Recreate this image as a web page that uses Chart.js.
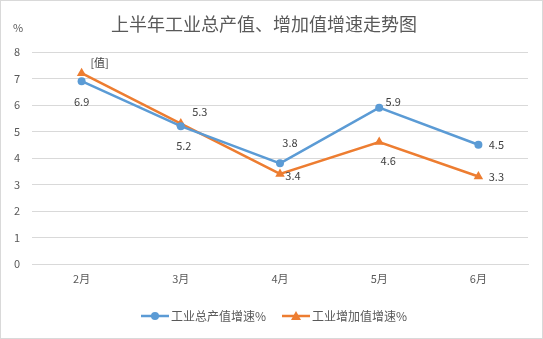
<!DOCTYPE html>
<html>
<head>
<meta charset="utf-8">
<script src="https://cdn.jsdelivr.net/npm/chart.js@4.4.0/dist/chart.umd.min.js"></script>
<style>
  html, body { margin: 0; padding: 0; background: #fff; }
  #wrap { width: 543px; height: 339px; }
</style>
</head>
<body>
<div id="wrap"><canvas id="myChart" width="543" height="339"></canvas></div>
<script>
// 月份与两条增速数据
const months = ["2月", "3月", "4月", "5月", "6月"];
const grossOutput = [6.9, 5.2, 3.8, 5.9, 4.5];
const addedValue = [7.2, 5.3, 3.4, 4.6, 3.3];
const seriesNames = ["工业总产值增速%", "工业增加值增速%"];
// 数据标签文字（增加值第一个点显示为占位符）
const grossLabels = ["6.9", "5.2", "3.8", "5.9", "4.5"];
const addedLabels = ["[值]", "5.3", "3.4", "4.6", "3.3"];

const FONT = "'Noto Sans CJK SC', 'Noto Sans', sans-serif";
const BLUE = "#5b9bd5";
const ORANGE = "#ed7d31";
const TEXT = "#595959";

// 每个标签相对数据点的偏移
const labelOffsets = [
  [[0, 21], [3, 20], [10, -20], [14, -6], [18, 0]],
  [[18, -10], [19, -12], [13, 2], [9, 19], [18, 0]]
];

const labelPlugin = {
  id: "valueLabels",
  afterDatasetsDraw(chart) {
    const c = chart.ctx;
    c.save();
    c.font = "11px " + FONT;
    c.fillStyle = "#404040";
    c.textAlign = "center";
    c.textBaseline = "middle";
    [grossLabels, addedLabels].forEach((labels, di) => {
      chart.getDatasetMeta(di).data.forEach((pt, i) => {
        const off = labelOffsets[di][i];
        c.fillText(labels[i], pt.x + off[0], pt.y + off[1]);
      });
    });
    c.restore();
  }
};

// 底部图例、单位和外框
const extrasPlugin = {
  id: "extras",
  afterDraw(chart) {
    const c = chart.ctx;
    c.save();
    c.strokeStyle = "#d9d9d9";
    c.lineWidth = 1;
    c.strokeRect(0.5, 0.5, chart.width - 1, chart.height - 1);

    c.font = "11px " + FONT;
    c.fillStyle = TEXT;
    c.textAlign = "center";
    c.textBaseline = "middle";
    c.fillText("%", 18, 28);

    const y = 316;
    const items = [
      { x: 141, color: BLUE, style: "circle", text: seriesNames[0] },
      { x: 282, color: ORANGE, style: "triangle", text: seriesNames[1] }
    ];
    items.forEach(it => {
      c.strokeStyle = it.color;
      c.lineWidth = 2.5;
      c.beginPath();
      c.moveTo(it.x, y);
      c.lineTo(it.x + 28, y);
      c.stroke();
      c.fillStyle = it.color;
      const mx = it.x + 14;
      c.beginPath();
      if (it.style === "circle") {
        c.arc(mx, y, 4, 0, Math.PI * 2);
      } else {
        c.moveTo(mx, y - 5);
        c.lineTo(mx + 5, y + 4);
        c.lineTo(mx - 5, y + 4);
        c.closePath();
      }
      c.fill();
      c.font = "12px " + FONT;
      c.fillStyle = TEXT;
      c.textAlign = "left";
      c.fillText(it.text, it.x + 30, y);
    });
    c.restore();
  }
};

const ctx = document.getElementById("myChart");
const myChart = new Chart(ctx, {
  type: "line",
  data: {
    labels: months,
    datasets: [
      {
        label: seriesNames[0],
        data: grossOutput,
        borderColor: BLUE,
        backgroundColor: BLUE,
        borderWidth: 2.5,
        pointStyle: "circle",
        pointRadius: 4,
        pointBorderWidth: 0
      },
      {
        label: seriesNames[1],
        data: addedValue,
        borderColor: ORANGE,
        backgroundColor: ORANGE,
        borderWidth: 2.5,
        pointStyle: "triangle",
        pointRadius: 5.5,
        pointBorderWidth: 0
      }
    ]
  },
  options: {
    responsive: false,
    animation: false,
    layout: { padding: { left: 0, right: 15, top: 0, bottom: 55 } },
    plugins: {
      legend: { display: false },
      tooltip: { enabled: false },
      title: {
        display: true,
        text: "上半年工业总产值、增加值增速走势图",
        color: TEXT,
        font: { family: FONT, size: 18, weight: "normal", lineHeight: 1 },
        padding: { top: 15, bottom: 19 }
      }
    },
    scales: {
      x: {
        offset: true,
        grid: { display: false, drawTicks: false },
        border: { color: "#d9d9d9" },
        ticks: { color: TEXT, font: { family: FONT, size: 11 }, padding: 8 },
        afterFit(scale) { scale.height = 20; }
      },
      y: {
        min: 0,
        max: 8,
        ticks: { stepSize: 1, color: TEXT, font: { family: FONT, size: 11 }, padding: 12 },
        grid: { color: "#d9d9d9", drawTicks: false },
        border: { display: false },
        afterFit(scale) { scale.width = 32; }
      }
    }
  },
  plugins: [labelPlugin, extrasPlugin]
});
</script>
</body>
</html>
